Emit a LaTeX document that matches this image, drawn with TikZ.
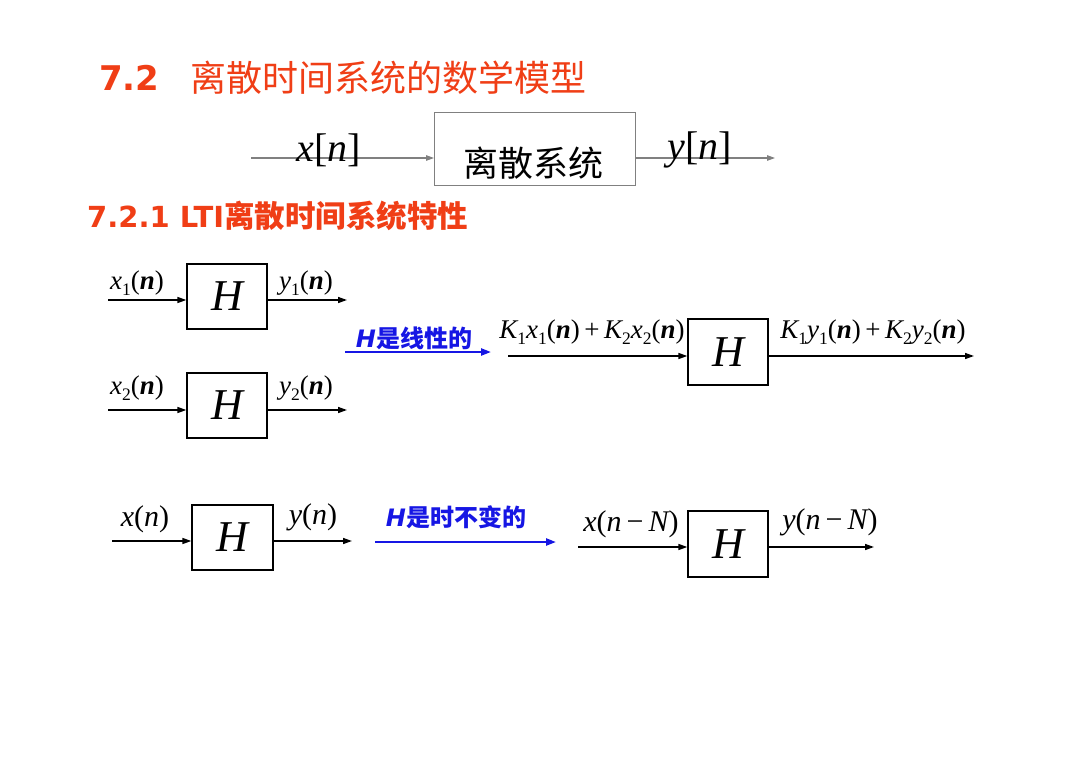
\documentclass[tikz,border=0pt]{standalone}
\usepackage{fontspec}
\setmainfont{Liberation Serif}
\newfontfamily\cjk{Noto Sans CJK SC}
\newfontfamily\vsans{DejaVu Sans}
\usetikzlibrary{arrows.meta}
\newcommand{\fsz}[1]{\fontsize{#1}{#1}\selectfont}
\newcommand{\vi}[1]{{\itshape #1}}
\newcommand{\vb}[1]{{\bfseries\itshape #1}}
\newcommand{\lowsub}[1]{\raisebox{-0.22em}{\fontsize{0.65em}{0.65em}\selectfont #1}}
\definecolor{titlered}{RGB}{240,62,22}
\definecolor{hblue}{RGB}{22,22,228}
\definecolor{linegray}{RGB}{128,128,128}
\tikzset{
  x=1pt,y=-1pt,
  hbox/.style={draw=black,line width=1.3pt,minimum width=80pt,minimum height=65pt,inner sep=0pt,font=\fsz{44}\itshape},
  sig/.style={line width=1.5pt,-{Triangle[length=9pt,width=6pt]}},
  bluesig/.style={line width=2.2pt,color=hblue,-{Triangle[length=10pt,width=7pt]}},
  graysig/.style={line width=1.1pt,color=linegray,-{Triangle[length=8pt,width=5.5pt]}},
  lab/.style={inner sep=0pt,font=\fsz{27}},
  lab2/.style={inner sep=0pt,font=\fsz{30}},
  bluetxt/.style={inner sep=0pt,text=hblue,font=\fsz{24}\bfseries}
}
\begin{document}
\begin{tikzpicture}
\useasboundingbox (0,0) rectangle (1080,763);
\fill[white] (0,0) rectangle (1080,763);
% titles
\node[anchor=west,inner sep=0pt,text=titlered,font=\fsz{34}\vsans\bfseries] (t72) at (99,78) {7.2};
\node[anchor=west,inner sep=0pt,text=titlered,font=\fsz{36}\cjk] (t72c) at (190,78) {离散时间系统的数学模型};
\node[anchor=west,inner sep=0pt,text=titlered,font=\fsz{29}] (t721) at (87,216) {{\vsans\bfseries 7.2.1 LTI}{\cjk\bfseries\fsz{30.5}离散时间系统特性}};
% top system
\node[draw=linegray,line width=1pt,minimum width=201pt,minimum height=73pt,inner sep=0pt] (sys) at (535,148.5) {};
\node[inner sep=0pt,font=\fsz{35}\cjk] (systxt) at (533,163) {离散系统};
\coordinate (xin) at (251,158);
\coordinate (yout) at (775,158);
\draw[graysig] (xin) -- (xin -| sys.west);
\draw[graysig] (yout -| sys.east) -- (yout);
\node[inner sep=0pt,font=\fsz{40}] (xn) at (329,150) {\vi{x}[\vi{n}]};
\node[inner sep=0pt,font=\fsz{40}] (yn) at (700,150) {\vi{y}[\vi{n}]};
% linear: box1
\node[hbox] (h1) at (227,296.5) {H};
\coordinate (a1) at (108,300);
\coordinate (b1) at (347,300);
\draw[sig] (a1) -- (a1 -| h1.west);
\draw[sig] (b1 -| h1.east) -- (b1);
\node[lab] (lx1) at (137,283) {\vi{x}\lowsub{1}(\vb{n})};
\node[lab] (ly1) at (306,283) {\vi{y}\lowsub{1}(\vb{n})};
% box2
\node[hbox] (h2) at (227,405.5) {H};
\coordinate (a2) at (108,410);
\coordinate (b2) at (347,410);
\draw[sig] (a2) -- (a2 -| h2.west);
\draw[sig] (b2 -| h2.east) -- (b2);
\node[lab] (lx2) at (137,388) {\vi{x}\lowsub{2}(\vb{n})};
\node[lab] (ly2) at (306,388) {\vi{y}\lowsub{2}(\vb{n})};
% blue linear
\node[bluetxt] (blin) at (414,338) {{\vsans\itshape H}{\cjk 是线性的}};
\coordinate (bla) at (345,352);
\coordinate (blb) at (491,352);
\draw[bluesig] (bla) -- (blb);
% box3
\node[hbox,minimum height=66pt] (h3) at (728,352) {H};
\coordinate (a3) at (508,356);
\coordinate (b3) at (974,356);
\draw[sig] (a3) -- (a3 -| h3.west);
\draw[sig] (b3 -| h3.east) -- (b3);
\node[lab] (lk1) at (592,332) {\vi{K}\lowsub{1}\vi{x}\lowsub{1}(\vb{n})\,+\,\vi{K}\lowsub{2}\vi{x}\lowsub{2}(\vb{n})};
\node[lab] (lk2) at (873,332) {\vi{K}\lowsub{1}\vi{y}\lowsub{1}(\vb{n})\,+\,\vi{K}\lowsub{2}\vi{y}\lowsub{2}(\vb{n})};
% time invariant: box4
\node[hbox,minimum width=81pt] (h4) at (232.5,537.5) {H};
\coordinate (a4) at (112,541);
\coordinate (b4) at (352,541);
\draw[sig] (a4) -- (a4 -| h4.west);
\draw[sig] (b4 -| h4.east) -- (b4);
\node[lab2] (lx) at (145,519) {\vi{x}(\vi{n})};
\node[lab2] (ly) at (313,517) {\vi{y}(\vi{n})};
% blue TI
\node[bluetxt] (bti) at (456,517) {{\vsans\itshape H}{\cjk 是时不变的}};
\coordinate (bta) at (375,542);
\coordinate (btb) at (556,542);
\draw[bluesig] (bta) -- (btb);
% box5
\node[hbox,minimum height=66pt] (h5) at (728,544) {H};
\coordinate (a5) at (578,547);
\coordinate (b5) at (874,547);
\draw[sig] (a5) -- (a5 -| h5.west);
\draw[sig] (b5 -| h5.east) -- (b5);
\node[lab2] (lxN) at (631,524) {\vi{x}(\vi{n}\,−\,\vi{N})};
\node[lab2] (lyN) at (830,522) {\vi{y}(\vi{n}\,−\,\vi{N})};
\end{tikzpicture}
\end{document}
